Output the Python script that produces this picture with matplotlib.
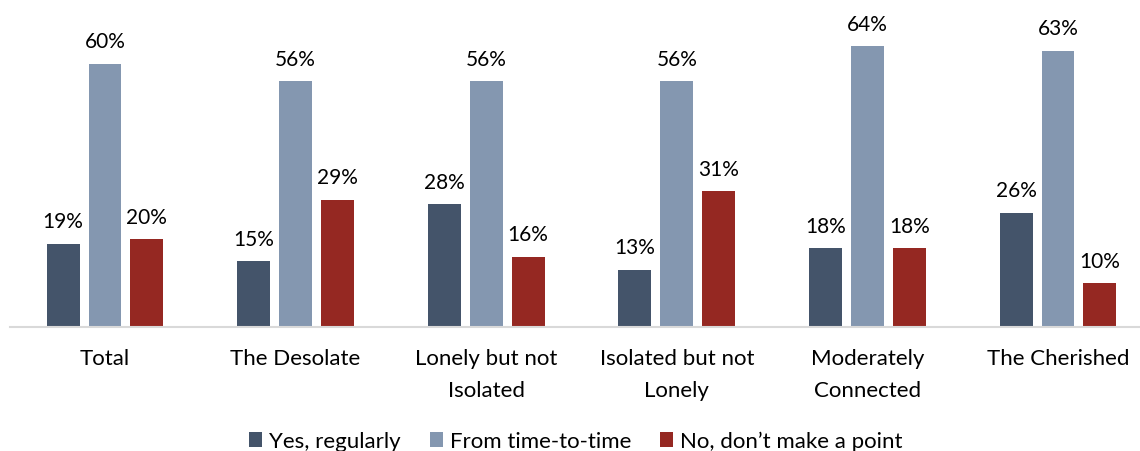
import matplotlib.pyplot as plt
import numpy as np

# --- data ---
categories = ['Total', 'The Desolate', 'Lonely but not\nIsolated', 'Isolated but not\nLonely',
              'Moderately\nConnected', 'The Cherished']
series_names = ['Yes, regularly', 'From time-to-time', 'No, don\u2019t make a point']
yes_regularly = [19, 15, 28, 13, 18, 26]
time_to_time = [60, 56, 56, 56, 64, 63]
no_point = [20, 29, 16, 31, 18, 10]

colors = ['#44546A', '#8497B0', '#952822']
plt.rcParams['font.family'] = ['Lato', 'DejaVu Sans']

fig = plt.figure(figsize=(11.4, 4.52), dpi=100)
ax = fig.add_axes([9.7 / 1140, 124 / 452, 1143.6 / 1140, 307 / 452])

x = np.arange(len(categories))
width = 0.173
offset = 0.22
for i, (vals, name) in enumerate(zip([yes_regularly, time_to_time, no_point], series_names)):
    bars = ax.bar(x + (i - 1) * offset, vals, width, color=colors[i], label=name)
    for b, v in zip(bars, vals):
        ax.annotate(f'{v}%', (b.get_x() + b.get_width() / 2, v), xytext=(0, 9),
                    textcoords='offset points', ha='center', va='bottom',
                    fontsize=15, color='#000000', annotation_clip=False)

ax.set_xlim(-0.5, len(categories) - 0.5)
ax.set_ylim(0, 70)
ax.set_xticks(x)
ax.set_xticklabels(categories, fontsize=16, linespacing=1.75)
ax.tick_params(axis='x', length=0, pad=15)
ax.set_yticks([])
for s in ['top', 'right', 'left']:
    ax.spines[s].set_visible(False)
ax.spines['bottom'].set_color('#D9D9D9')
ax.spines['bottom'].set_linewidth(1.5)

fig.legend(loc='lower center', bbox_to_anchor=(0.505, -0.045), ncol=3, frameon=False,
           fontsize=16, handlelength=0.6, handleheight=0.6, handletextpad=0.3,
           columnspacing=1.3)

fig.savefig('out.png', dpi=100)
